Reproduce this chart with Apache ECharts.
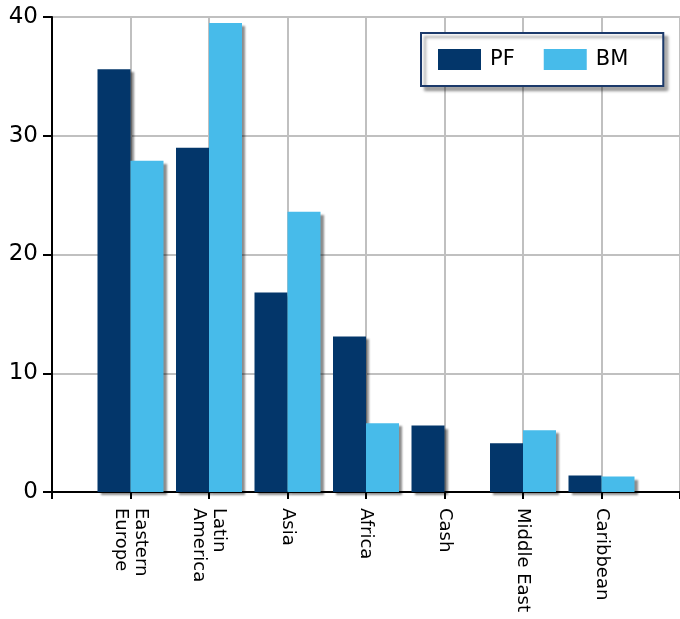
<!DOCTYPE html>
<html>
<head>
<meta charset="utf-8">
<title>PF vs BM</title>
<script src="https://cdn.jsdelivr.net/npm/echarts@6/dist/echarts.min.js"></script>
<style>
  html, body { margin: 0; padding: 0; background: #fff; }
  #chart { width: 680px; height: 619px; }
</style>
</head>
<body>
<div id="chart"></div>
<script>
// Regions, padded with an empty slot at each end so the axis runs edge to edge
const categories = ['', 'Eastern\nEurope', 'Latin\nAmerica', 'Asia', 'Africa', 'Cash', 'Middle East', 'Caribbean', ''];
const pfValues = [null, 35.6, 29.0, 16.8, 13.1, 5.6, 4.1, 1.4, null];
const bmValues = [null, 27.9, 39.5, 23.6, 5.8, null, 5.2, 1.3, null];
const yTicks = { min: 0, max: 40, interval: 10 };

const FONT = '"DejaVu Sans", Verdana, sans-serif';
const shadow = {
  shadowColor: 'rgba(0,0,0,0.45)',
  shadowBlur: 2,
  shadowOffsetX: 3,
  shadowOffsetY: 3
};

const chart = echarts.init(document.getElementById('chart'), null, { renderer: 'canvas' });
chart.setOption({
  animation: false,
  backgroundColor: '#ffffff',
  grid: { left: 52, right: 0, top: 17, bottom: 127, containLabel: false },
  legend: {
    left: 421,
    top: 33,
    orient: 'horizontal',
    icon: 'rect',
    padding: [16, 35, 16, 17],
    itemWidth: 43,
    itemHeight: 21,
    itemGap: 29,
    backgroundColor: '#ffffff',
    borderColor: '#1c3a6b',
    borderWidth: 2,
    borderRadius: 0,
    shadowColor: 'rgba(0,0,0,0.35)',
    shadowBlur: 3,
    shadowOffsetX: 4,
    shadowOffsetY: 4,
    textStyle: { fontFamily: FONT, fontSize: 21, lineHeight: 21, color: '#000', padding: [0, 0, 0, 4] },
    data: ['PF', 'BM']
  },
  xAxis: {
    type: 'category',
    data: categories,
    boundaryGap: false,
    axisLine: { show: true, lineStyle: { color: '#000', width: 2 } },
    axisTick: { show: true, length: 7, lineStyle: { color: '#000', width: 2 }, interval: 0 },
    axisLabel: {
      interval: 0,
      rotate: -90,
      margin: 16,
      fontFamily: FONT,
      fontSize: 18,
      color: '#000',
      lineHeight: 20
    },
    splitLine: { show: true, interval: 0, lineStyle: { color: '#c0c0c0', width: 2 } }
  },
  yAxis: {
    type: 'value',
    min: yTicks.min,
    max: yTicks.max,
    interval: yTicks.interval,
    axisLine: { show: true, lineStyle: { color: '#000', width: 2 } },
    axisTick: { show: true, length: 9, lineStyle: { color: '#000', width: 2 } },
    axisLabel: { margin: 14, fontFamily: FONT, fontSize: 23, color: '#000' },
    splitLine: { show: true, lineStyle: { color: '#c0c0c0', width: 2 } }
  },
  series: [
    {
      name: 'PF',
      type: 'bar',
      data: pfValues,
      barWidth: 33,
      barGap: '0%',
      itemStyle: Object.assign({ color: '#03366a' }, shadow)
    },
    {
      name: 'BM',
      type: 'bar',
      data: bmValues,
      barWidth: 33,
      barGap: '0%',
      itemStyle: Object.assign({ color: '#47bbea' }, shadow)
    }
  ]
});
</script>
</body>
</html>
